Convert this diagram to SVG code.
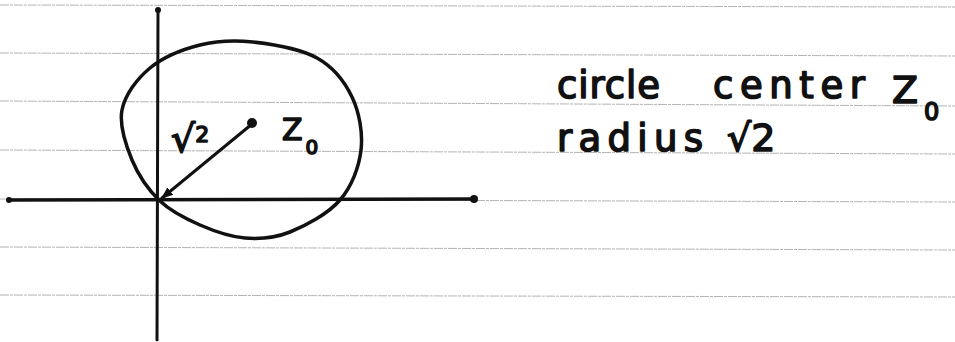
<svg xmlns="http://www.w3.org/2000/svg" width="955" height="342" viewBox="0 0 955 342">
<style>
.rule{stroke:#b4b4b4;stroke-width:1;stroke-dasharray:9 1 3 1}
.ink{fill:none;stroke:#111;stroke-linecap:round;stroke-linejoin:round}
.hw{font-family:"DejaVu Sans","Liberation Sans",sans-serif;fill:#111;stroke:#111;stroke-width:1.6;stroke-linejoin:round;font-weight:normal}
</style>
<defs>
<marker id="ah" viewBox="0 0 10 10" refX="9" refY="5" markerWidth="4" markerHeight="4" orient="auto">
<path d="M0,1 L10,5 L0,9 Z" fill="#111"/>
</marker>
</defs>
<rect width="955" height="342" fill="#fff"/>
<g id="ruled-lines">
<line class="rule" x1="0" y1="5" x2="955" y2="7"/>
<line class="rule" x1="0" y1="53" x2="955" y2="56"/>
<line class="rule" x1="0" y1="101" x2="955" y2="106"/>
<line class="rule" x1="0" y1="150" x2="955" y2="154"/>
<line class="rule" x1="0" y1="199" x2="955" y2="202"/>
<line class="rule" x1="0" y1="247" x2="955" y2="250"/>
<line class="rule" x1="0" y1="295" x2="955" y2="297"/>
</g>
<g id="axes">
<line class="ink" x1="158" y1="10" x2="157" y2="340" stroke-width="3"/>
<circle cx="158" cy="10" r="3" fill="#111"/>
<line class="ink" x1="9" y1="200" x2="475" y2="199" stroke-width="3.5"/>
<circle cx="9" cy="200" r="3" fill="#111"/>
<circle cx="474" cy="199" r="4" fill="#111"/>
</g>
<g id="circle">
<path class="ink" stroke-width="3.5" d="M253,42 C272.5,44.2 300.5,48.8 317,58 C333.5,67.2 344.7,81.7 352,97 C359.3,112.3 363,132.8 361,150 C359,167.2 351.8,186.3 340,200 C328.2,213.7 305.8,225.7 290,232 C274.2,238.3 260,239.2 245,238 C230,236.8 214.2,231.2 200,225 C185.8,218.8 171.3,211.8 160,201 C148.7,190.2 138.3,175.2 132,160 C125.7,144.8 119,125.3 122,110 C125,94.7 137,78.8 150,68 C163,57.2 182.8,49.3 200,45 C217.2,40.7 233.5,39.8 253,42 Z"/>
</g>
<g id="radius">
<line class="ink" x1="252" y1="124" x2="162" y2="198" stroke-width="3" marker-end="url(#ah)"/>
<circle cx="252" cy="123" r="5" fill="#111"/>
<text class="hw" x="171" y="152" font-size="38">√<tspan font-size="22" dy="-10">2</tspan></text>
<text class="hw" x="282" y="140" font-size="30">Z<tspan font-size="20" dx="3" dy="14">0</tspan></text>
</g>
<g id="label">
<text class="hw" x="557" y="98" font-size="37" textLength="103" lengthAdjust="spacing">circle</text>
<text class="hw" x="713" y="98" font-size="37" textLength="152" lengthAdjust="spacing">center</text>
<text class="hw" x="892" y="103" font-size="38">Z<tspan font-size="24" dx="6" dy="17">0</tspan></text>
<text class="hw" x="557" y="151" font-size="37" textLength="146" lengthAdjust="spacing">radius</text>
<text class="hw" x="727" y="151" font-size="38">√2</text>
</g>
</svg>
